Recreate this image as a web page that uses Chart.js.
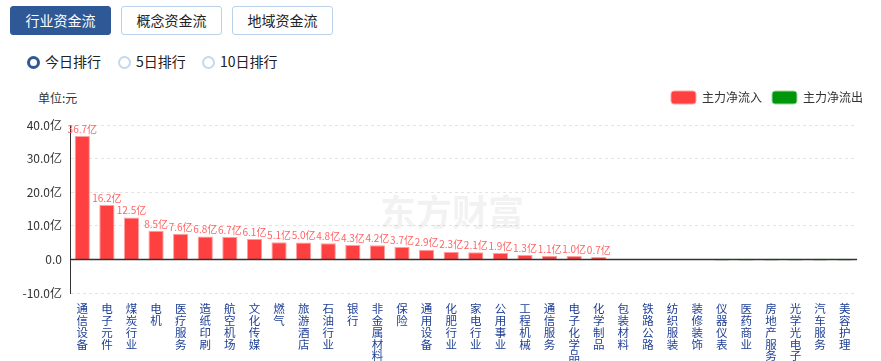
<!DOCTYPE html>
<html>
<head>
<meta charset="utf-8">
<script src="https://cdn.jsdelivr.net/npm/chart.js@4/dist/chart.umd.min.js"></script>
<style>
  body { margin: 0; background: #fff; font-family: "Noto Sans CJK SC", sans-serif; width: 881px; height: 361px; overflow: hidden; position: relative; }
  .tab { position: absolute; top: 6px; width: 99px; height: 27px; border: 1px solid #b9d1ea; border-radius: 3px; font-size: 14px; color: #222; text-align: center; line-height: 27px; background: #fff; }
  .tab.on { background: #2e5896; border-color: #2e5896; color: #fff; }
  .radio { position: absolute; top: 52px; font-size: 14px; color: #222; line-height: 18px; }
  .radio i { display: inline-block; width: 9px; height: 9px; border: 2px solid #c4d8ee; border-radius: 50%; vertical-align: -2px; margin-right: 5px; }
  .radio.on i { border: 3px solid #2e5896; width: 7px; height: 7px; }
  #unit { position: absolute; left: 38px; top: 89px; font-size: 12px; color: #333; }
  #wrap { position: absolute; left: 0; top: 80px; width: 881px; height: 281px; }
</style>
</head>
<body>
<div class="tab on" style="left:10px">行业资金流</div>
<div class="tab" style="left:121px">概念资金流</div>
<div class="tab" style="left:232px">地域资金流</div>
<div class="radio on" style="left:27px"><i></i>今日排行</div>
<div class="radio" style="left:118px"><i></i>5日排行</div>
<div class="radio" style="left:202px"><i></i>10日排行</div>
<div id="unit">单位:元</div>
<div id="wrap"><canvas id="myChart"></canvas></div>
<script>
// categories and net flow (亿)
const categories = ['通信设备', '电子元件', '煤炭行业', '电机', '医疗服务', '造纸印刷', '航空机场', '文化传媒',
    '燃气', '旅游酒店', '石油行业', '银行', '非金属材料', '保险', '通用设备', '化肥行业', '家电行业', '公用事业',
    '工程机械', '通信服务', '电子化学品', '化学制品', '包装材料', '铁路公路', '纺织服装', '装修装饰', '仪器仪表',
    '医药商业', '房地产服务', '光学光电子', '汽车服务', '美容护理'];
const netFlow = [36.7, 16.2, 12.5, 8.5, 7.6, 6.8, 6.7, 6.1, 5.1, 5.0, 4.8, 4.3, 4.2, 3.7, 2.9, 2.3, 2.1, 1.9,
    1.3, 1.1, 1.0, 0.7, 0.15, 0.05, -0.03, -0.05, -0.3, -0.35, -0.35, -0.35, -0.35, -0.35];
const yTicks = [-10, 0, 10, 20, 30, 40];

const inflow = netFlow.map(v => v >= 0 ? v : null);
const outflow = netFlow.map(v => v < 0 ? v : null);

// value labels above red bars
const valueLabels = {
    id: 'valueLabels',
    afterDatasetsDraw(chart) {
        const ctx = chart.ctx;
        const meta = chart.getDatasetMeta(0);
        ctx.save();
        ctx.font = '10px "Noto Sans CJK SC"';
        ctx.fillStyle = '#ff6464';
        ctx.textAlign = 'center';
        ctx.textBaseline = 'bottom';
        meta.data.forEach((bar, i) => {
            const v = inflow[i];
            if (v === null || v < 0.5) return;
            ctx.fillText(v.toFixed(1) + '亿', bar.x, bar.y - 2);
        });
        ctx.restore();
    }
};

// zero line + watermark, and nudge the legend into place
const extras = {
    id: 'extras',
    afterLayout(chart) {
        chart.legend.left += 16;
        chart.legend.right += 16;
        chart.legend.top -= 11;
    },
    beforeDatasetsDraw(chart) {
        const ctx = chart.ctx;
        ctx.save();
        ctx.font = 'bold 36px "Noto Sans CJK SC"';
        ctx.fillStyle = 'rgba(0,0,0,0.05)';
        ctx.textAlign = 'center';
        ctx.textBaseline = 'middle';
        ctx.fillText('东方财富', 452, 132);
        ctx.restore();
    },
    afterDatasetsDraw(chart) {
        const ctx = chart.ctx;
        const area = chart.chartArea;
        const y0 = chart.scales.y.getPixelForValue(0);
        ctx.save();
        ctx.strokeStyle = '#333';
        ctx.lineWidth = 1.5;
        ctx.beginPath();
        ctx.moveTo(area.left, y0);
        ctx.lineTo(area.right, y0);
        ctx.stroke();
        ctx.restore();
    }
};

const ctx = document.getElementById('myChart').getContext('2d');
const myChart = new Chart(ctx, {
    type: 'bar',
    data: {
        labels: categories.map(c => c.split('')),
        datasets: [{
            label: '主力净流入',
            data: inflow,
            backgroundColor: '#ff4040',
            borderColor: '#ffa0a0',
            borderWidth: 1
        }, {
            label: '主力净流出',
            data: outflow,
            backgroundColor: '#00960a',
            borderColor: '#9fd89f',
            borderWidth: 1
        }]
    },
    plugins: [extras, valueLabels],
    options: {
        responsive: true,
        maintainAspectRatio: false,
        animation: false,
        categoryPercentage: 0.62,
        barPercentage: 1,
        layout: { padding: { top: 12, right: 24, left: 0, bottom: 0 } },
        plugins: {
            legend: {
                position: 'top',
                align: 'end',
                labels: {
                    boxWidth: 25,
                    boxHeight: 13,
                    useBorderRadius: true,
                    borderRadius: 3,
                    color: '#333',
                    font: { size: 12, family: '"Noto Sans CJK SC"' }
                }
            },
            tooltip: { enabled: false }
        },
        scales: {
            x: {
                stacked: true,
                grid: { display: false },
                border: { display: false },
                ticks: {
                    autoSkip: false,
                    maxRotation: 0,
                    padding: 2,
                    color: '#1f3f95',
                    font: { size: 11.5, family: '"Noto Sans CJK SC"', lineHeight: '11.8px' }
                },
                afterFit(scale) { scale.height = 68; }
            },
            y: {
                stacked: true,
                min: yTicks[0],
                max: yTicks[yTicks.length - 1],
                afterBuildTicks(scale) { scale.ticks = yTicks.map(v => ({ value: v })); },
                grid: { color: '#e4e4e4', tickLength: 0 },
                border: { color: '#333', dash: [3, 3], display: true },
                ticks: {
                    padding: 8,
                    color: '#333',
                    font: { size: 12, family: '"Noto Sans CJK SC"' },
                    callback: v => v === 0 ? '0.0' : v.toFixed(1) + '亿'
                },
                afterFit(scale) { scale.width = 70; }
            }
        }
    }
});
</script>
</body>
</html>
